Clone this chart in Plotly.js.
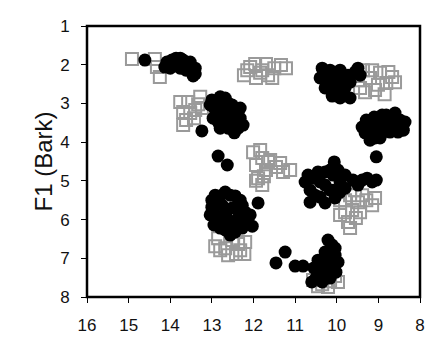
<!DOCTYPE html>
<html>
<head>
<meta charset="utf-8">
<script src="https://cdn.plot.ly/plotly-3.0.1.min.js"></script>
<style>html,body{margin:0;padding:0;background:#fff;}#chart{width:425px;height:338px;}</style>
</head>
<body>
<div id="chart"></div>
<script>
// Black filled circles: F2 (Bark) on x, F1 (Bark) on y
const circleF2 = [
  14.61, 14.08, 14.00, 13.86, 13.69, 13.57, 13.48, 13.40, 13.76, 13.62, 14.13, 13.96, 13.76, 13.52, 13.40, 13.45, 13.88,
  13.00, 12.80, 12.61, 12.42, 12.32, 12.92, 12.75, 12.56, 12.37, 12.66, 12.85, 12.46, 13.24,
  13.04, 12.85, 12.68, 12.51, 12.32, 12.25, 12.61, 12.80, 12.97, 12.44, 12.68, 12.51,
  12.85, 12.63,
  12.92, 12.68, 12.44, 12.27, 13.00, 12.75, 12.51, 12.85, 12.61, 12.37, 12.15, 12.68, 12.44, 12.95, 12.08, 11.89, 12.03,
  13.00, 12.80, 12.56, 12.32, 12.20, 12.37, 12.66, 12.92, 12.51, 12.80, 12.27, 12.56, 13.04,
  10.33, 10.16, 9.99, 10.21, 10.01, 9.73, 9.56, 9.80, 9.68, 10.35,
  10.40, 10.28, 10.11, 9.92, 9.92, 9.80, 10.04, 9.68, 9.44, 9.49, 10.20, 10.10, 9.90,
  9.29, 9.10, 8.91, 8.67, 8.48, 8.40, 8.62, 8.84, 9.08, 9.32, 9.20, 8.96,
  9.20, 9.01, 8.76, 8.57, 8.36, 8.53, 8.72, 8.88, 9.39, 9.25, 9.08, 8.81, 8.60,
  10.06, 9.05,
  10.69, 10.64, 10.40, 10.28, 10.09, 9.92, 10.16, 10.40, 10.04, 9.80, 9.61, 9.39, 9.15,
  10.76, 10.57, 10.45, 10.16, 9.97, 9.80, 10.28, 10.52, 10.28, 10.09, 9.92, 9.49, 9.27, 9.05, 10.64,
  10.11, 10.28, 10.04, 10.45, 10.16, 10.40, 10.11, 10.50, 10.26, 10.30,
  10.21, 10.04, 10.35, 9.97, 10.55, 10.26, 10.02, 10.60, 10.35, 10.16,
  11.46, 11.24, 11.00, 10.81
];
const circleF1 = [
  1.88, 1.93, 2.09, 1.83, 1.88, 1.96, 2.09, 2.24, 2.09, 2.14, 2.06, 1.88, 1.83, 1.93, 2.09, 2.29, 2.01,
  2.91, 2.83, 2.99, 3.17, 3.38, 3.17, 3.30, 3.43, 3.64, 3.17, 3.48, 3.76, 3.71,
  3.04, 2.96, 2.86, 3.04, 3.12, 3.56, 3.64, 3.64, 3.38, 3.48, 3.38, 3.22,
  4.36, 4.59,
  5.37, 5.29, 5.39, 5.63, 5.68, 5.63, 5.70, 5.96, 6.01, 5.96, 6.06, 6.27, 6.32, 6.14, 5.88, 5.57, 6.17,
  5.50, 5.39, 5.37, 5.50, 5.81, 5.75, 5.81, 5.88, 6.14, 6.22, 6.22, 6.40, 5.88,
  2.27, 2.14, 2.34, 2.52, 2.71, 2.27, 2.19, 2.60, 2.86, 2.09,
  2.34, 2.60, 2.81, 2.86, 2.14, 2.40, 2.52, 2.45, 2.27, 2.09, 2.40, 2.65, 2.62,
  3.43, 3.35, 3.30, 3.33, 3.43, 3.69, 3.64, 3.56, 3.69, 3.76, 3.95, 3.89,
  3.48, 3.53, 3.43, 3.48, 3.48, 3.74, 3.74, 3.74, 3.61, 3.74, 3.89, 3.30, 3.25,
  4.51, 4.38,
  4.85, 5.24, 5.03, 4.77, 4.85, 5.03, 5.24, 5.42, 5.44, 5.19, 4.98, 4.98, 5.03,
  5.03, 4.93, 4.77, 4.72, 4.72, 4.85, 5.11, 5.37, 5.57, 5.24, 5.29, 5.11, 4.93, 4.98, 5.55,
  6.66, 6.84, 6.92, 7.05, 7.10, 7.31, 7.31, 7.51, 7.51, 7.00,
  6.53, 6.74, 7.10, 7.10, 7.25, 7.31, 7.36, 7.61, 7.61, 7.51,
  7.12, 6.84, 7.20, 7.20
];
// Grey open squares
const squareF2 = [
  14.92, 14.37, 14.32, 14.25,
  12.23, 12.08, 11.94, 11.79, 11.65, 11.50, 11.34, 11.96, 12.15, 11.84, 11.55, 11.22, 11.70,
  13.69, 13.57, 13.40, 13.28, 13.24, 13.62, 13.43, 13.76, 13.52, 13.33, 13.69,
  12.01, 11.79, 11.94, 11.60, 11.70, 11.46, 11.29, 11.89, 11.94, 11.75, 11.84, 11.65, 11.36, 11.12, 11.79,
  12.85, 12.68, 12.51, 12.32, 12.20, 12.42, 12.80, 12.92, 12.61, 12.22, 12.37,
  9.49, 9.37, 9.20, 9.08, 8.96, 8.81, 8.67, 9.32, 8.85, 9.44, 9.15, 8.76, 9.01, 8.60,
  9.92, 9.68, 9.49, 9.29, 9.15, 9.80, 9.63, 9.73, 9.44, 9.99, 9.80, 9.56, 9.39, 9.08, 9.92, 9.54, 9.68,
  10.57, 10.35, 10.16, 10.04, 10.45, 10.21, 9.97
];
const squareF1 = [
  1.85, 1.85, 2.06, 2.32,
  2.27, 2.06, 2.34, 2.14, 2.27, 2.09, 2.01, 1.98, 2.14, 2.21, 2.34, 2.09, 1.98,
  3.22, 2.96, 3.17, 2.83, 3.12, 3.43, 3.38, 2.96, 3.25, 3.02, 3.56,
  4.26, 4.41, 4.59, 4.46, 4.72, 4.64, 4.77, 4.93, 5.00, 4.88, 4.20, 4.51, 4.54, 4.72, 5.11,
  6.48, 6.74, 6.53, 6.79, 6.58, 6.89, 6.79, 6.69, 6.92, 6.89, 6.63,
  2.40, 2.14, 2.34, 2.65, 2.21, 2.47, 2.32, 2.71, 2.76, 2.60, 2.14, 2.19, 2.52, 2.45,
  5.50, 5.37, 5.55, 5.50, 5.63, 5.81, 5.75, 6.06, 5.81, 5.29, 5.50, 5.24, 5.37, 5.44, 5.88, 5.96, 6.22,
  7.56, 7.67, 7.59, 7.46, 7.72, 7.74, 7.61
];
const xTicks = [16, 15, 14, 13, 12, 11, 10, 9, 8];
const yTicks = [1, 2, 3, 4, 5, 6, 7, 8];

const traces = [
  {
    x: squareF2, y: squareF1, type: 'scatter', mode: 'markers',
    marker: {symbol: 'square-open', size: 12, color: '#9a9a9a', line: {width: 2, color: '#9a9a9a'}},
    hoverinfo: 'skip'
  },
  {
    x: circleF2, y: circleF1, type: 'scatter', mode: 'markers',
    marker: {symbol: 'circle', size: 13, color: '#000000', line: {width: 0}},
    hoverinfo: 'skip'
  }
];

const tickFont = {family: 'Liberation Sans, Arial, sans-serif', size: 17, color: '#111'};
const layout = {
  width: 425, height: 338,
  margin: {l: 87, r: 5, t: 26, b: 41, pad: 0},
  paper_bgcolor: '#ffffff', plot_bgcolor: '#ffffff',
  showlegend: false,
  xaxis: {
    range: [16, 8], tickmode: 'array', tickvals: xTicks, ticktext: xTicks.map(String),
    showgrid: false, zeroline: false, showline: false,
    ticks: 'outside', ticklen: 5, tickwidth: 1, tickcolor: '#000',
    tickfont: tickFont, ticklabelstandoff: 8
  },
  yaxis: {
    range: [8, 1], tickmode: 'array', tickvals: yTicks, ticktext: yTicks.map(String),
    showgrid: false, zeroline: false, showline: false,
    ticks: 'outside', ticklen: 5, tickwidth: 1, tickcolor: '#000',
    tickfont: tickFont, ticklabelstandoff: 8,
    title: {text: 'F1 (Bark)', font: {family: 'Liberation Sans, Arial, sans-serif', size: 24, color: '#111'}, standoff: 0}
  },
  shapes: [{
    type: 'rect', xref: 'paper', yref: 'paper', x0: 0, x1: 1, y0: 0, y1: 1,
    line: {color: '#000', width: 2.5}, fillcolor: 'rgba(0,0,0,0)', layer: 'above'
  }]
};

Plotly.newPlot('chart', traces, layout, {staticPlot: true, displayModeBar: false});
</script>
</body>
</html>
